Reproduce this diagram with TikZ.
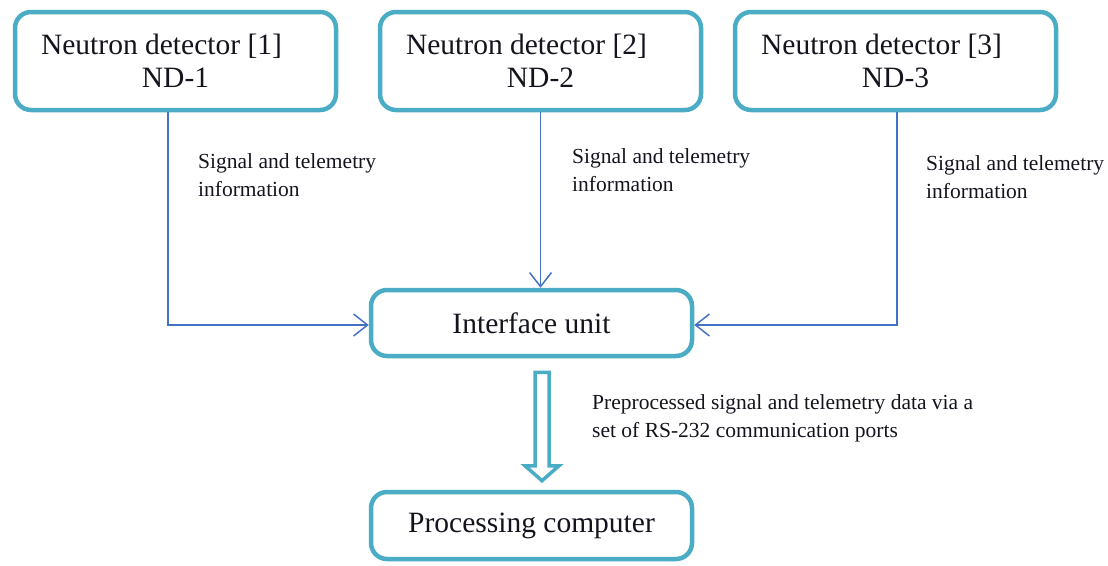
\documentclass[tikz,border=0pt]{standalone}
\usepackage{fontspec}
\setmainfont{Liberation Serif}
\usetikzlibrary{arrows.meta,calc}
\definecolor{boxteal}{RGB}{75,172,198}
\definecolor{flowblue}{RGB}{68,114,196}
\definecolor{txt}{RGB}{20,20,30}
\begin{document}
\begin{tikzpicture}[x=1pt,y=-1pt,
  box/.style={draw=boxteal, line width=4.5pt, rounded corners=16pt, fill=white, inner sep=0pt,
    align=center, text=txt, font=\fontsize{29.5}{33}\selectfont},
  flow/.style={draw=flowblue, line width=1.5pt,
    -{Straight Barb[length=14pt,width=22pt,line width=1.5pt]}},
  lbl/.style={anchor=base west, align=left, inner sep=0pt, text=txt,
    font=\fontsize{21.5}{28}\selectfont},
  hollow/.style={draw=boxteal, line width=3.5pt, fill=white, line join=miter}]
\useasboundingbox (0,0) rectangle (1108,565);
\node[box, minimum width=321pt, minimum height=98pt] (nd1) at (175.5,61)
  {Neutron detector [1]\kern28pt\\ND-1};
\node[box, minimum width=321pt, minimum height=98pt] (nd2) at (540.5,61)
  {Neutron detector [2]\kern28pt\\ND-2};
\node[box, minimum width=321pt, minimum height=98pt] (nd3) at (895.5,61)
  {Neutron detector [3]\kern28pt\\ND-3};
\node[box, minimum width=321pt, minimum height=66pt] (iu) at (531.5,323) {Interface unit};
\node[box, minimum width=321pt, minimum height=67pt] (pc) at (531.5,525.5) {Processing computer};

\draw[flow] ($(nd1.south)+(-7.5,0)$) |- ($(iu.west)+(0,2)$);
\draw[flow] (nd2.south) -- (nd2.south |- iu.north);
\draw[flow] ($(nd3.south)+(1.5,0)$) |- ($(iu.east)+(0,2)$);

\node[lbl] (l1) at (198,196) {Signal and telemetry\\information};
\node[lbl] (l2) at (572,191) {Signal and telemetry\\information};
\node[lbl] (l3) at (926,198) {Signal and telemetry\\information};
\node[lbl] (l4) at (592,437) {Preprocessed signal and telemetry data via a\\set of RS-232 communication ports};

\coordinate (as) at ($(iu.south)+(10.5,14)$);
\coordinate (at) at ($(pc.north)+(10.5,-9)$);
\draw[hollow] ($(as)+(-7,0)$) -- ($(at)+(-7,-15)$) -- ($(at)+(-17,-15)$) -- (at)
  -- ($(at)+(17,-15)$) -- ($(at)+(7,-15)$) -- ($(as)+(7,0)$) -- cycle;
\end{tikzpicture}
\end{document}
